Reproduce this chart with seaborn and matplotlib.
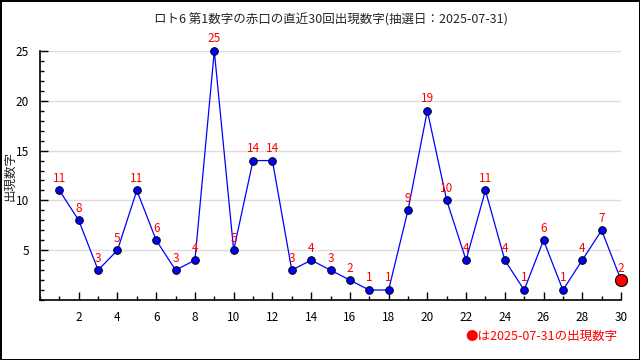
import seaborn as sns
import matplotlib.pyplot as plt
import pandas as pd
from matplotlib.ticker import MultipleLocator

draws = list(range(1, 31))
numbers = [11, 8, 3, 5, 11, 6, 3, 4, 25, 5, 14, 14, 3, 4, 3, 2, 1, 1, 9, 19, 10, 4, 11, 4, 1, 6, 1, 4, 7, 2]
title = "ロト6 第1数字の赤口の直近30回出現数字(抽選日：2025-07-31)"
note = "●は2025-07-31の出現数字"

sns.set_style("white")
plt.rcParams['font.family'] = ['Noto Sans CJK JP', 'DejaVu Sans']

df = pd.DataFrame({"draw": draws, "num": numbers})

fig = plt.figure(figsize=(6.4, 3.6), dpi=100)
fig.patch.set_edgecolor('black')
fig.patch.set_linewidth(2)
ax = fig.add_axes([40 / 640, 60 / 360, 581 / 640, 249 / 360])

ax.yaxis.grid(True, color='#dddddd', linewidth=1)
ax.set_axisbelow(True)

sns.lineplot(data=df, x="draw", y="num", ax=ax, color='blue', linewidth=0.9,
             marker='o', markersize=5.5, markerfacecolor='blue', markeredgecolor='black',
             markeredgewidth=0.7, clip_on=False, zorder=3)
last = df.iloc[[-1]]
sns.scatterplot(data=last, x="draw", y="num", ax=ax, color='red', s=75,
                edgecolor='black', linewidth=0.8, clip_on=False, zorder=4)

for d, n in zip(draws, numbers):
    ax.annotate(str(n), (d, n), xytext=(0, 4), textcoords='offset points',
                ha='center', va='bottom', color='red', fontsize=8.5, zorder=5)

ax.set_xlim(0, 30)
ax.set_ylim(0, 25)
ax.xaxis.set_minor_locator(MultipleLocator(1))
ax.yaxis.set_minor_locator(MultipleLocator(1))
ax.set_xticks(range(2, 31, 2))
ax.set_yticks(range(5, 26, 5))
ax.tick_params(which='major', direction='in', length=6, width=1, labelsize=8.5, colors='black', pad=8)
ax.tick_params(which='minor', direction='in', length=3, width=1, colors='black')
ax.tick_params(axis='x', bottom=True, which='both')
ax.tick_params(axis='y', left=True, which='both')

for s in ['top', 'right']:
    ax.spines[s].set_visible(False)
for s in ['left', 'bottom']:
    ax.spines[s].set_color('black')
    ax.spines[s].set_linewidth(1.2)

ax.set_xlabel("")
ax.set_ylabel("")
fig.text(10 / 640, 1 - 176 / 360, "出現数字", rotation=90, fontsize=9, ha='center', va='center')
ax.set_title(title, fontsize=9, pad=0, y=1 + 27 / 249)
fig.text(617 / 640, 1 - 336 / 360, note, color='red', fontsize=9, ha='right', va='center')

fig.savefig("out.png", dpi=100, edgecolor=fig.get_edgecolor())
